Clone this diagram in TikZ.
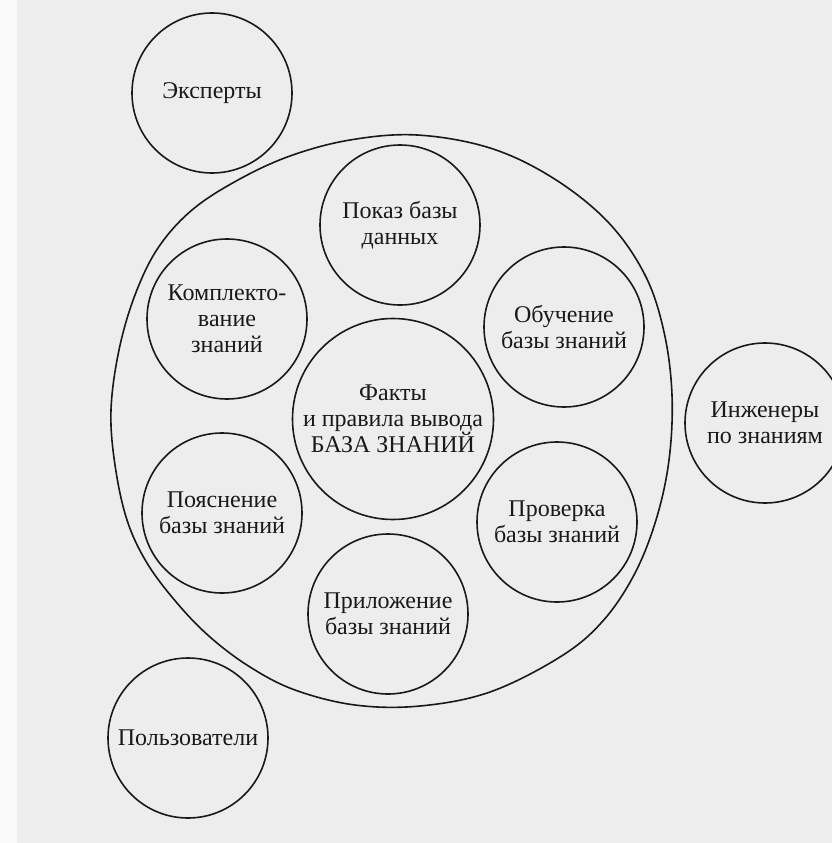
\documentclass[tikz,border=0pt]{standalone}
\usepackage{fontspec}
\setmainfont{Liberation Serif}
\definecolor{paper}{RGB}{237,237,237}
\definecolor{strip}{RGB}{250,250,250}
\definecolor{ink}{RGB}{25,25,25}
\tikzset{
  bubble/.style={circle, draw=ink, line width=1.6pt, inner sep=0pt,
    minimum size=160pt, align=center, text=ink,
    font=\fontsize{24}{26}\selectfont},
  bigbubble/.style={bubble, minimum size=201pt},
  outline/.style={draw=ink, line width=1.6pt}
}
\begin{document}
\begin{tikzpicture}[x=1pt,y=-1pt]
\useasboundingbox (0,0) rectangle (832,843);
\fill[paper] (0,0) rectangle (832,843);
\fill[strip] (0,0) rectangle (17,843);
% large outline
\draw[outline] plot[smooth cycle, tension=0.6] coordinates {
  (417,135) (490,148) (553,178) (608,222) (645,275) (664,332) (672,395)
  (669,460) (656,520) (634,575) (602,622) (560,657) (490,692) (420,706)
  (355,705) (295,690) (250,667) (210,637) (177,603) (147,563) (127,520)
  (115,465) (111,410) (119,350) (135,295) (158,248) (192,210) (238,180)
  (290,156) (350,140)};
% circles
\node[bubble] (experts) at (212,93) {Эксперты};
\node[bubble] (show) at (400,225) {Показ базы\\данных};
\node[bubble] (acquire) at (227,319) {Комплекто-\\вание\\знаний};
\node[bubble] (learn) at (564,327) {Обучение\\базы знаний};
\node[bigbubble] (kb) at (393,419) {Факты\\и правила вывода\\БАЗА ЗНАНИЙ};
\node[bubble] (engineers) at (765,423) {Инженеры\\по знаниям};
\node[bubble] (explain) at (222,513) {Пояснение\\базы знаний};
\node[bubble] (check) at (557,522) {Проверка\\базы знаний};
\node[bubble] (apply) at (388,614) {Приложение\\базы знаний};
\node[bubble] (users) at (188,738) {Пользователи};
\end{tikzpicture}
\end{document}
